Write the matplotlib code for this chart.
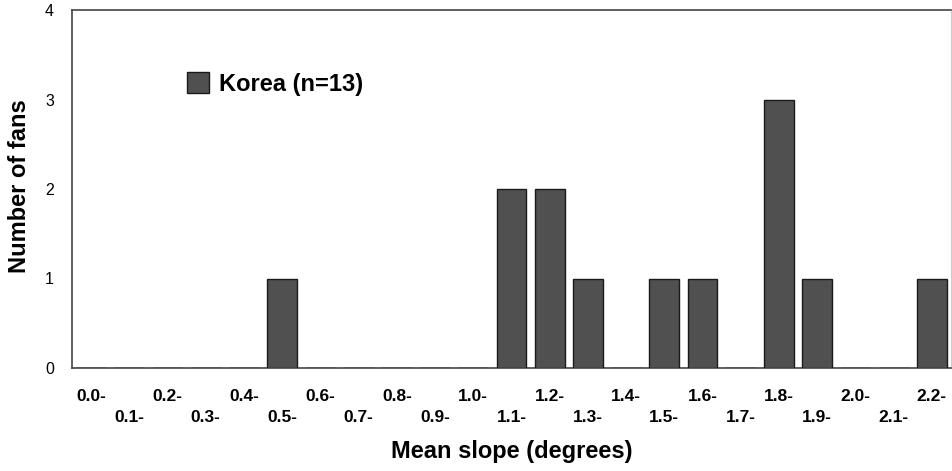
import matplotlib
matplotlib.use("Agg")
import matplotlib.pyplot as plt
import numpy as np

categories = ["0.0-", "0.1-", "0.2-", "0.3-", "0.4-", "0.5-", "0.6-", "0.7-",
              "0.8-", "0.9-", "1.0-", "1.1-", "1.2-", "1.3-", "1.4-", "1.5-",
              "1.6-", "1.7-", "1.8-", "1.9-", "2.0-", "2.1-", "2.2-"]
counts = [0, 0, 0, 0, 0, 1, 0, 0, 0, 0, 0, 2, 2, 1, 0, 1, 1, 0, 3, 1, 0, 0, 1]
series_label = "Korea (n=13)"
y_ticks = [0, 1, 2, 3, 4]

plt.rcParams['font.family'] = ['Liberation Sans', 'DejaVu Sans']

fig = plt.figure(figsize=(9.52, 4.71), dpi=100)
ax = fig.add_axes([72/952, 1 - 368/471, (951-72)/952, (368-10)/471])

x = np.arange(len(categories))
ax.bar(x, counts, width=0.78, color="#505050", edgecolor="#1a1a1a",
       linewidth=1.0, label=series_label, zorder=3)

ax.set_xlim(-0.5, len(categories) - 0.5)
ax.set_ylim(0, 4)
ax.set_yticks(y_ticks)
ax.set_yticklabels([str(v) for v in y_ticks], fontsize=11.5)
ax.tick_params(axis='y', length=0, pad=13)
ax.set_xticks(x)
ax.set_xticklabels([])
ax.tick_params(axis='x', length=0)

for i, lab in enumerate(categories):
    yoff = -0.32 if i % 2 == 0 else -0.55
    ax.text(i, yoff, lab, ha='center', va='center', fontsize=12.5,
            fontweight='bold', transform=ax.transData, clip_on=False)

for s in ['left', 'bottom', 'top']:
    ax.spines[s].set_color('#444444')
    ax.spines[s].set_linewidth(1.2)
ax.spines['right'].set_color('#cccccc')

ax.set_xlabel("Mean slope (degrees)", fontsize=17, fontweight='bold', labelpad=48)
ax.set_ylabel("Number of fans", fontsize=17, fontweight='bold')
ax.yaxis.set_label_coords((31 - 72) / 879, 0.507)

leg = ax.legend(loc='upper left', bbox_to_anchor=(0.107, 0.885), frameon=False,
                handlelength=0.9, handleheight=0.95,
                handletextpad=0.45, prop={'weight': 'bold', 'size': 17})

fig.savefig("out.png", dpi=100)
